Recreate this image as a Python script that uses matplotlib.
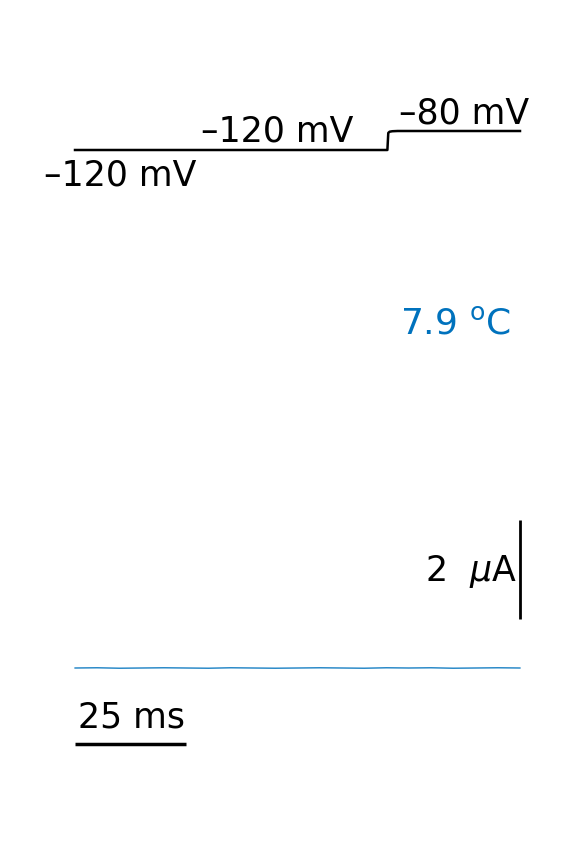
import matplotlib
matplotlib.use("Agg")
import matplotlib.pyplot as plt
import numpy as np

plt.rcParams['mathtext.fontset'] = 'dejavusans'

# voltage protocol (ms, mV)
t_volt = [0, 70.2, 70.4, 70.7, 71.3, 72.5, 100]
v_volt = [-120, -120, -84, -81.5, -80.5, -80, -80]

# current trace (ms, uA), nearly flat with small noise
t_cur = [0, 5, 10, 15, 20, 25, 30, 35, 40, 45, 50, 55, 60, 65, 70, 75, 80, 85, 90, 95, 100]
i_cur = [0.0, 0.004, -0.004, 0.0, 0.004, 0.0, -0.004, 0.004, 0.0, -0.004, 0.0,
         0.004, 0.0, -0.004, 0.004, 0.0, 0.004, -0.004, 0.0, 0.004, 0.0]

temp_label = "7.9 $^{\\mathrm{o}}$C"
scale_t = 25   # ms
scale_i = 2    # uA

W, H = 576, 864
fig = plt.figure(figsize=(W / 100, H / 100), dpi=100)

# px mapping: t=0 -> x=75, t=100 -> x=520 ; I=0 -> y=668, 1 uA = 49.5 px
px_ms = 4.45
x0 = 75
def xlim_ms():
    return (-x0 / px_ms, (W - x0) / px_ms)

ax = fig.add_axes([0, 0, 1, 1])
ax.set_xlim(*xlim_ms())
px_ua = 49.5
y0 = 668
ax.set_ylim((y0 - H) / px_ua, y0 / px_ua)
ax.axis('off')

ax.plot(t_cur, i_cur, color='#0072BD', lw=0.9)

# scale bars
ax.plot([0, scale_t], [-1.53, -1.53], color='black', lw=2.5, solid_capstyle='butt')
ax.plot([100, 100], [1.0, 1.0 + scale_i], color='black', lw=2.0, solid_capstyle='butt')

# voltage axes overlay
axv = fig.add_axes([0, 0, 1, 1])
axv.set_xlim(*xlim_ms())
px_mv = 0.475
yv = 150
axv.set_ylim(-120 - (H - yv) / px_mv, -120 + yv / px_mv)
axv.axis('off')
axv.patch.set_alpha(0)
axv.plot(t_volt, v_volt, color='black', lw=1.8)

def ft(x, y, s, size=25, **kw):
    fig.text(x / W, 1 - y / H, s, ha='center', va='center', fontsize=size, **kw)

ft(120, 176, "–120 mV")
ft(277, 132, "–120 mV")
ft(464, 114, "–80 mV")
ft(456, 323, temp_label, size=26, color='#0072BD')
ft(471, 571, "2 $\\ \\mu$A")
ft(131, 718, "25 ms")

fig.savefig("out.png", dpi=100)
